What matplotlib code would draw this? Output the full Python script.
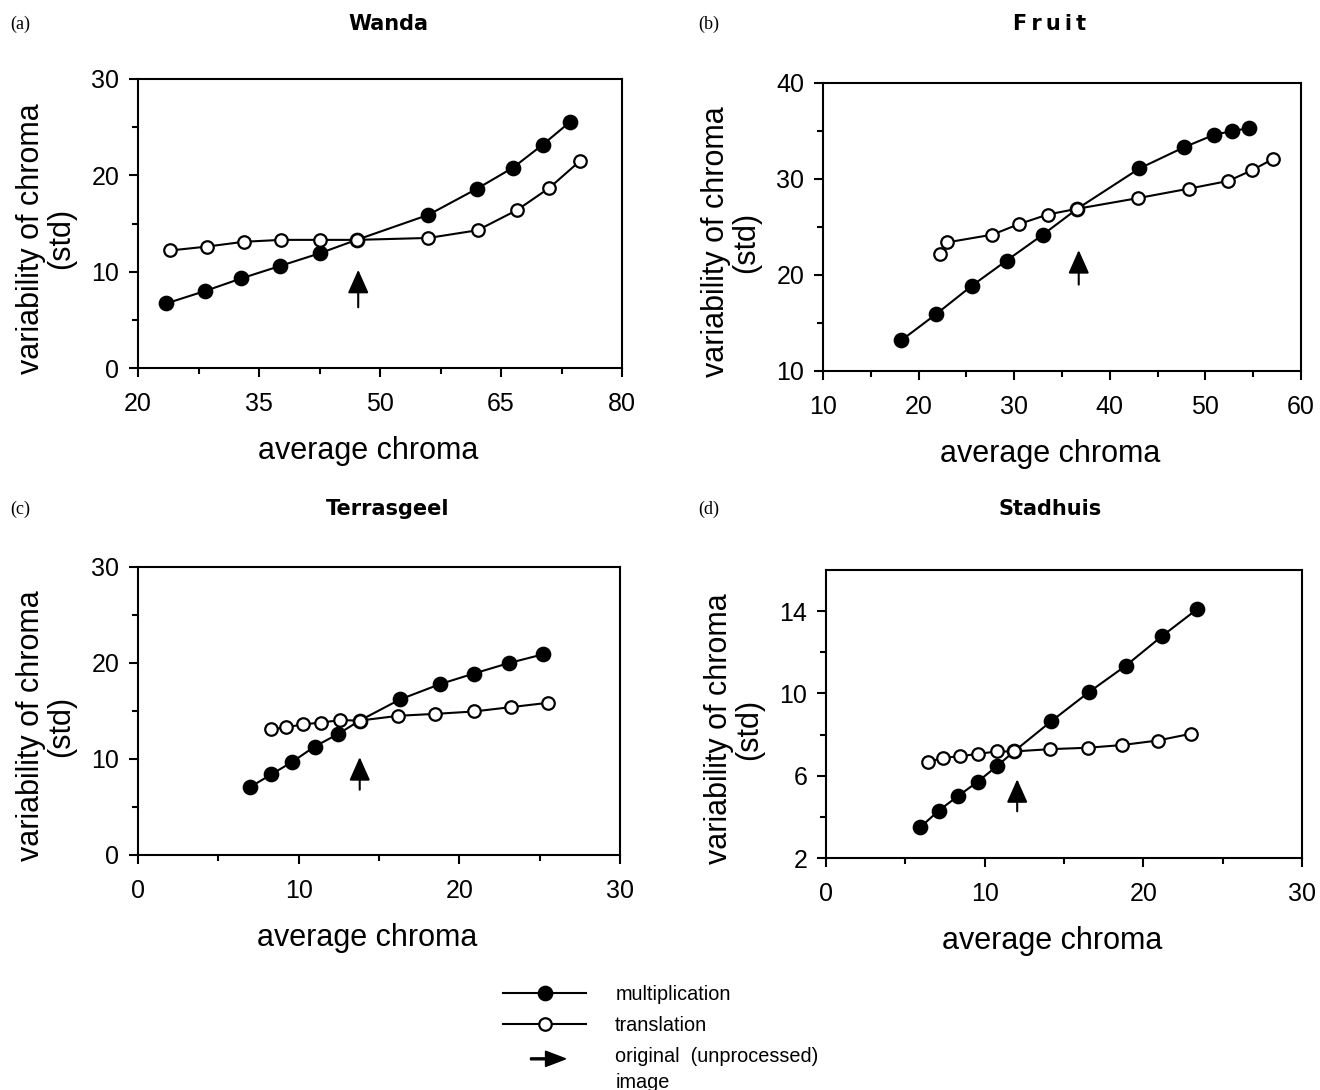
import matplotlib
matplotlib.use("Agg")
import matplotlib.pyplot as plt
from matplotlib.lines import Line2D
from matplotlib.patches import FancyArrow, Patch
from matplotlib.legend_handler import HandlerPatch

# ---------------- data ----------------
wanda_mult_x = [23.5, 28.35, 32.8, 37.65, 42.5, 47.1, 56.0, 62.0, 66.5, 70.2, 73.5]
wanda_mult_y = [6.7, 8.0, 9.3, 10.6, 11.9, 13.3, 15.9, 18.6, 20.8, 23.2, 25.5]
wanda_trans_x = [24.0, 28.5, 33.1, 37.7, 42.6, 47.1, 56.0, 62.1, 67.0, 71.0, 74.8]
wanda_trans_y = [12.2, 12.6, 13.1, 13.3, 13.3, 13.3, 13.5, 14.3, 16.4, 18.7, 21.5]
wanda_orig_x = 47.3
wanda_arrow_y = [6.3, 10.2]

fruit_mult_x = [18.2, 21.8, 25.6, 29.2, 33.0, 36.6, 43.1, 47.75, 50.9, 52.8, 54.6]
fruit_mult_y = [13.2, 15.9, 18.9, 21.5, 24.2, 26.9, 31.1, 33.3, 34.6, 35.0, 35.3]
fruit_trans_x = [22.25, 23.0, 27.7, 30.5, 33.5, 36.6, 42.9, 48.3, 52.4, 54.85, 57.1]
fruit_trans_y = [22.2, 23.4, 24.2, 25.3, 26.3, 26.9, 28.0, 29.0, 29.8, 30.9, 32.1]
fruit_orig_x = 36.75
fruit_arrow_y = [19.0, 22.6]

terras_mult_x = [7.0, 8.3, 9.6, 11.0, 12.45, 13.8, 16.3, 18.8, 20.9, 23.1, 25.2]
terras_mult_y = [7.1, 8.4, 9.7, 11.3, 12.6, 14.0, 16.2, 17.8, 18.9, 20.0, 20.9]
terras_trans_x = [8.3, 9.2, 10.25, 11.4, 12.6, 13.8, 16.2, 18.5, 20.9, 23.2, 25.5]
terras_trans_y = [13.1, 13.3, 13.6, 13.8, 14.05, 14.0, 14.5, 14.7, 14.95, 15.4, 15.85]
terras_orig_x = 13.8
terras_arrow_y = [6.8, 10.2]

stad_mult_x = [5.95, 7.1, 8.3, 9.55, 10.75, 11.85, 14.2, 16.55, 18.9, 21.2, 23.4]
stad_mult_y = [3.5, 4.3, 5.0, 5.7, 6.45, 7.18, 8.65, 10.05, 11.35, 12.8, 14.1]
stad_trans_x = [6.4, 7.4, 8.45, 9.6, 10.75, 11.85, 14.1, 16.5, 18.65, 20.9, 23.0]
stad_trans_y = [6.66, 6.87, 6.95, 7.06, 7.18, 7.18, 7.29, 7.36, 7.49, 7.71, 8.04]
stad_orig_x = 12.05
stad_arrow_y = [4.27, 5.83]

titles = ["Wanda", "F\u2009r\u2009u\u2009i\u2009t", "Terrasgeel", "Stadhuis"]
panel_tags = ["(a)", "(b)", "(c)", "(d)"]
x_major = [[20, 35, 50, 65, 80], [10, 20, 30, 40, 50, 60], [0, 10, 20, 30], [0, 10, 20, 30]]
x_minor = [[27.5, 42.5, 57.5, 72.5], [15, 25, 35, 45, 55], [5, 15, 25], [5, 15, 25]]
y_major = [[0, 10, 20, 30], [10, 20, 30, 40], [0, 10, 20, 30], [2, 6, 10, 14]]
y_minor = [[5, 15, 25], [15, 25, 35], [5, 15, 25], [4, 8, 12]]
x_limits = [(20, 80), (10, 60), (0, 30), (0, 30)]
y_limits = [(0, 30), (10, 40), (0, 30), (2, 16)]

xlabel_text = "average chroma"
ylabel_text = "variability of chroma\n(std)"
legend_labels = ["multiplication", "translation", "original  (unprocessed)\nimage"]

# ---------------- layout (pixel boxes: left, top, right, bottom) ----------------
W, H = 1320, 1090
fig = plt.figure(figsize=(W / 100, H / 100), dpi=100)
fig.patch.set_facecolor("white")

boxes = [(138, 79, 622, 368), (823, 83, 1301, 371), (138, 567, 620, 855), (826, 570, 1302, 858)]
title_pos = [(388, 24), (1050, 24), (388, 509), (1050, 509)]
tag_pos = [(10, 24), (698, 24), (10, 509), (698, 509)]

panels = [
    (wanda_mult_x, wanda_mult_y, wanda_trans_x, wanda_trans_y, wanda_orig_x, wanda_arrow_y),
    (fruit_mult_x, fruit_mult_y, fruit_trans_x, fruit_trans_y, fruit_orig_x, fruit_arrow_y),
    (terras_mult_x, terras_mult_y, terras_trans_x, terras_trans_y, terras_orig_x, terras_arrow_y),
    (stad_mult_x, stad_mult_y, stad_trans_x, stad_trans_y, stad_orig_x, stad_arrow_y),
]

sans = ["Liberation Sans", "DejaVu Sans"]

for i, (mx, my, tx, ty, ox, ay) in enumerate(panels):
    l, t, r, b = boxes[i]
    wpx, hpx = r - l, b - t
    ax = fig.add_axes([l / W, 1 - b / H, wpx / W, hpx / H])
    ax.plot(mx, my, "-o", color="black", lw=1.5, ms=10.3, mfc="black", mec="black",
            mew=1.0, zorder=3)
    ax.plot(tx, ty, "-o", color="black", lw=1.5, ms=9, mfc="white", mec="black",
            mew=1.6, zorder=4)
    ax.annotate("", xy=(ox, ay[1]), xytext=(ox, ay[0]),
                arrowprops=dict(arrowstyle="-|>,head_length=0.9,head_width=0.4",
                                lw=1.5, color="black", shrinkA=0, shrinkB=0,
                                mutation_scale=16))
    ax.set_xlim(*x_limits[i])
    ax.set_ylim(*y_limits[i])
    ax.set_xticks(x_major[i])
    ax.set_xticks(x_minor[i], minor=True)
    ax.set_yticks(y_major[i])
    ax.set_yticks(y_minor[i], minor=True)
    for s in ax.spines.values():
        s.set_linewidth(1.5)
    ax.tick_params(which="major", direction="out", length=6.5, width=1.5,
                   top=False, right=False)
    ax.tick_params(which="minor", direction="out", length=4.3, width=1.5,
                   top=False, right=False)
    ax.tick_params(axis="x", which="major", pad=10.5)
    ax.tick_params(axis="y", which="major", pad=7)
    for lab in ax.get_xticklabels() + ax.get_yticklabels():
        lab.set_fontfamily(sans)
        lab.set_fontsize(18)
    ax.set_xlabel(xlabel_text, fontsize=22, family=sans)
    ax.xaxis.set_label_coords(0.5 - 12 / wpx, -68 / hpx)
    ax.set_ylabel(ylabel_text, fontsize=22, family=sans, linespacing=1.0)
    ax.yaxis.set_label_coords(-62 / wpx, 0.5 - 15 / hpx)
    fig.text(title_pos[i][0] / W, 1 - title_pos[i][1] / H, titles[i], ha="center",
             va="center", fontsize=15, fontweight="bold", family="DejaVu Sans")
    fig.text(tag_pos[i][0] / W, 1 - tag_pos[i][1] / H, panel_tags[i], ha="left",
             va="center", fontsize=13, family=["Liberation Serif", "DejaVu Serif"])

# ---------------- legend ----------------
def make_arrow(legend, orig_handle, xdescent, ydescent, width, height, fontsize):
    return FancyArrow(0.33 * width, 0.5 * height - ydescent + 0.55 * fontsize,
                      0.42 * width, 0, width=1.4, length_includes_head=True,
                      head_width=1.1 * height, head_length=0.24 * width, color="black")

h_mult = Line2D([], [], color="black", lw=1.5, marker="o", ms=10.3, mfc="black", mec="black")
h_trans = Line2D([], [], color="black", lw=1.5, marker="o", ms=9, mfc="white",
                 mec="black", mew=1.6)
h_arrow = Patch(color="black")

leg = fig.legend([h_mult, h_trans, h_arrow], legend_labels,
                 loc="upper left", bbox_to_anchor=(503 / W, 1 - 985 / H),
                 frameon=False, handlelength=4.2, handletextpad=1.45,
                 labelspacing=0.6, borderaxespad=0, borderpad=0,
                 prop=dict(family=sans, size=14.3),
                 handler_map={h_arrow: HandlerPatch(patch_func=make_arrow)})
leg.get_texts()[2].set_linespacing(1.45)

fig.savefig("out.png", dpi=100, facecolor="white")
